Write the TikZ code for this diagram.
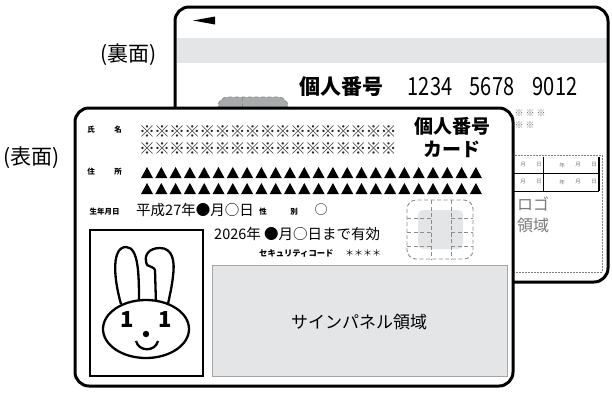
\documentclass[tikz,border=0pt]{standalone}
\usepackage{fontspec}
\setmainfont{Noto Sans CJK JP}
\definecolor{panelgray}{HTML}{E4E5E6}
\definecolor{chipgray}{HTML}{A9AAAB}
\definecolor{textgray}{HTML}{7A7A7A}
\tikzset{
  cardedge/.style={line width=3pt, rounded corners=14pt},
  tinylabel/.style={font=\bfseries\fontsize{7.5}{8}\selectfont},
  backmark/.style={text=textgray, font=\fontsize{9}{9}\selectfont, inner sep=0pt},
  chipline/.style={gray!90, line width=0.9pt, dash pattern=on 4pt off 2.5pt},
  bignum/.style={font=\fontsize{25}{25}\selectfont, inner sep=0pt},
  caption/.style={anchor=west, inner sep=0pt, font=\fontsize{21}{21}\selectfont},
}
\newcommand{\narrow}[1]{\scalebox{0.8}[1]{#1}}
\begin{document}
\begin{tikzpicture}[x=1pt, y=-1pt, >=stealth]
  \useasboundingbox (0,0) rectangle (612,392);

  % back side
  \coordinate (B1) at (175,7);
  \coordinate (B2) at (608,282);
  \fill[white, rounded corners=14pt] (B1) rectangle (B2);
  \fill[panelgray] (176.5,38) rectangle (606.5,63);
  \fill (193,20.5) -- (215,16.5) -- (215,24.5) -- cycle;
  \node[anchor=west, font=\bfseries\fontsize{21}{21}\selectfont] (bnum) at (296,87) {個人番号};
  \node[bignum] (g1) at (430,87) {\narrow{1234}};
  \node[bignum] (g2) at (492,87) {\narrow{5678}};
  \node[bignum] (g3) at (555,87) {\narrow{9012}};
  \foreach \i in {0,...,2}
    \node[backmark] (bm\i) at (519+11*\i,113) {※};
  \foreach \i in {0,...,1}
    \node[backmark] (bn\i) at (519+11*\i,125) {※};
  % back table and logo area
  \draw[gray, dash pattern=on 2pt off 1pt, line width=0.5pt] (420,155) rectangle (602,272);
  \draw[line width=0.8pt] (420,173) -- (599,173);
  \draw[line width=0.8pt] (420,191) -- (599,191);
  \draw[line width=0.8pt] (543,157) -- (543,191);
  \draw[line width=1.2pt] (599,157) -- (599,191);
  \foreach \y/\r in {165/a,182/b} {
    \node[backmark, font=\fontsize{5.5}{5.5}\selectfont] (m\r) at (523,\y) {月};
    \node[backmark, font=\fontsize{5.5}{5.5}\selectfont] (d\r) at (539,\y) {日};
    \node[backmark, font=\fontsize{5.5}{5.5}\selectfont] (y\r) at (562,\y) {年};
    \node[backmark, font=\fontsize{5.5}{5.5}\selectfont] (n\r) at (578,\y) {月};
    \node[backmark, font=\fontsize{5.5}{5.5}\selectfont] (e\r) at (594,\y) {日};
  }
  \node[anchor=north west, align=left, text=textgray, inner sep=0pt,
        font=\fontsize{16}{21}\selectfont] (logo) at (517,197) {ロゴ\\領域};
  % chip seen from behind
  \draw[chipline, fill=chipgray, rounded corners=10pt] (218,97) rectangle (288,140);
  \draw[chipline] (242,97) -- (242,140);
  \draw[cardedge] (B1) rectangle (B2);

  % front side
  \coordinate (F1) at (75,108);
  \coordinate (F2) at (513,386);
  \fill[white, rounded corners=14pt] (F1) rectangle (F2);

  \node[tinylabel] (shi) at (91,130) {氏};
  \node[tinylabel] (mei) at (118,130) {名};
  \node[tinylabel] (ju) at (91,172) {住};
  \node[tinylabel] (sho) at (118,172) {所};
  \foreach \i in {0,...,16} {
    \node[inner sep=0pt, text=black!85, font=\fontsize{16}{16}\selectfont] (s\i) at (147+15.1*\i,132) {※};
    \node[inner sep=0pt, text=black!85, font=\fontsize{16}{16}\selectfont] (t\i) at (147+15.1*\i,149) {※};
  }
  \foreach \i in {0,...,23} {
    \fill (141+14.3*\i,178) -- ++(6,-11) -- ++(6,11) -- cycle;
    \fill (141+14.3*\i,194) -- ++(6,-11) -- ++(6,11) -- cycle;
  }
  \node[align=center, font=\bfseries\fontsize{19}{23}\selectfont] (title) at (452,138) {個人番号\\カード};

  \node[tinylabel, anchor=west] (birth) at (86,212) {生年月日};
  \node[anchor=west, font=\fontsize{14.5}{15}\selectfont, inner sep=0pt] (bdate) at (136,210) {平成27年●月○日};
  \node[tinylabel] (sei) at (263,212) {性};
  \node[tinylabel] (betsu) at (294,212) {別};
  \node[font=\fontsize{13}{13}\selectfont] (sex) at (321,210) {○};
  \node[anchor=west, font=\fontsize{14.5}{15}\selectfont, inner sep=0pt] (valid) at (214,234) {2026年 ●月○日まで有効};
  \node[anchor=west, inner sep=0pt, font=\bfseries\fontsize{8.3}{8.3}\selectfont] (sec) at (259,253) {セキュリティコード};
  \node[anchor=west, inner sep=0pt, font=\fontsize{9}{9}\selectfont] (code) at (345,253) {＊＊＊＊};

  % chip
  \fill[panelgray, rounded corners=5pt] (418,210) rectangle (463,249);
  \draw[chipline, rounded corners=9pt] (407,200) rectangle (473,259);
  \draw[chipline] (431,200) -- (431,259);
  \draw[chipline] (451,200) -- (451,259);
  \foreach \y in {218,232,246} {
    \draw[chipline] (407,\y) -- (431,\y);
    \draw[chipline] (451,\y) -- (473,\y);
  }

  % signature panel
  \draw[gray!70, fill=panelgray, line width=0.8pt] (212,265) rectangle (507,376);
  \node[font=\fontsize{17}{17}\selectfont] (sign) at (359,322) {サインパネル領域};

  % photo with the mascot
  \draw[line width=1.6pt] (90,230) rectangle (203,376);
  \begin{scope}[line width=2.3pt, line join=round]
    \draw (121,304) .. controls (113,276) and (112,247) .. (126,247)
          .. controls (139,247) and (139,276) .. (139,304);
    \draw (156,304) -- (155,270)
          .. controls (154,267) and (150,267) .. (147,265)
          .. controls (143,255) and (149,248) .. (160,248)
          .. controls (173,248) and (175,262) .. (173,276)
          .. controls (172,286) and (170,294) .. (168,304);
    \draw[fill=white] (146,329) ellipse [x radius=43, y radius=29];
    \draw (136,341) .. controls (139,352) and (155,352) .. (158,341);
  \end{scope}
  \fill (146,334) circle [radius=3.2];
  \node[font=\bfseries\fontsize{22}{22}\selectfont] (oneL) at (127,320) {1};
  \node[font=\bfseries\fontsize{22}{22}\selectfont] (oneR) at (165,320) {1};

  \draw[cardedge] (F1) rectangle (F2);

  % side captions
  \node[caption] (back) at (100,55) {(裏面)};
  \node[caption] (front) at (3,158) {(表面)};
\end{tikzpicture}
\end{document}
